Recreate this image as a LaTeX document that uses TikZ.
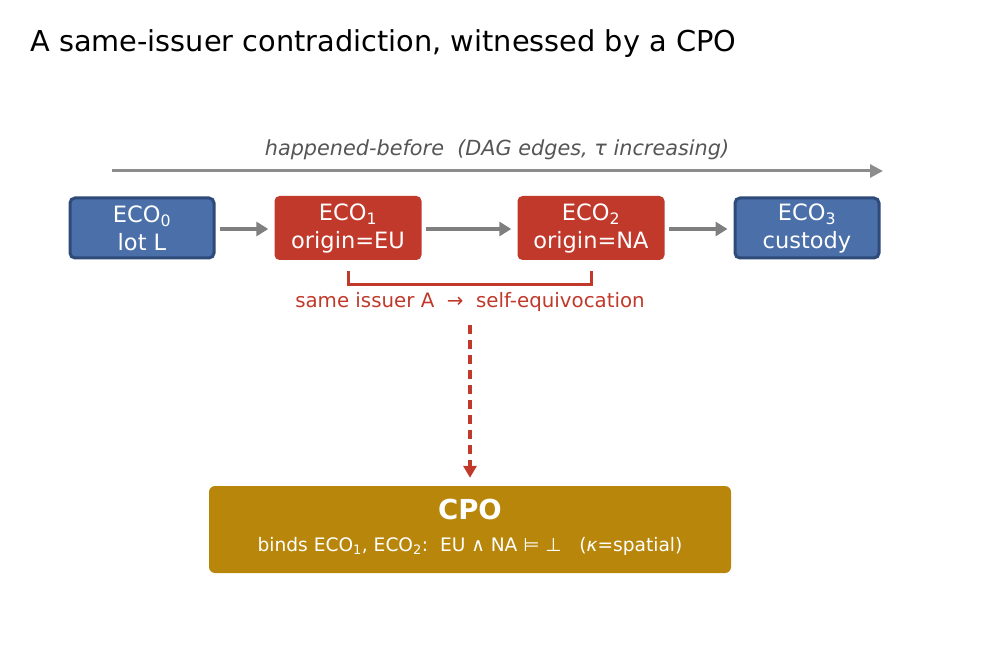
\documentclass[tikz,border=0pt]{standalone}
\usepackage{fontspec}
\setmainfont{DejaVu Sans}
\usetikzlibrary{arrows.meta}
\definecolor{bluefill}{HTML}{4A6FA9}
\definecolor{blueedge}{HTML}{2E4A78}
\definecolor{redfill}{HTML}{C0392B}
\definecolor{goldfill}{HTML}{B8860B}
\definecolor{arrowgray}{HTML}{7F7F7F}
\definecolor{timegray}{HTML}{8C8C8C}
\definecolor{labelgray}{HTML}{555555}
\tikzset{
  ecobox/.style={rounded corners=5pt, minimum width=#1, text=white, align=center,
    font=\fontsize{22.5}{28}\selectfont, inner sep=0pt},
  bluebox/.style={ecobox=144pt, fill=bluefill, draw=blueedge, line width=3pt, minimum height=60pt},
  redbox/.style={ecobox=147pt, fill=redfill, minimum height=64pt},
  flow/.style={draw=arrowgray, line width=4pt, -{Triangle[length=12pt,width=14pt]}},
}
\begin{document}
\begin{tikzpicture}[x=1pt,y=-1pt]
\useasboundingbox (0,0) rectangle (996,668);
\node[anchor=base west, font=\fontsize{28.8}{34}\selectfont, inner sep=0pt] (title) at (30,52) {A same-issuer contradiction, witnessed by a CPO};

\coordinate (t0) at (112,171);
\coordinate (t1) at (883,171);
\draw[draw=timegray, line width=3pt, -{Triangle[length=13pt,width=13pt]}] (t0) -- (t1);
\node[font=\fontsize{20.8}{24}\selectfont\itshape, text=labelgray] (tlabel) at (497,150) {happened-before\ \ (DAG edges, τ increasing)};

\node[bluebox] (e0) at (142,228) {ECO\textsubscript{0}\\lot L};
\node[redbox] (e1) at (348,228) {ECO\textsubscript{1}\\origin=EU};
\node[redbox] (e2) at (591,228) {ECO\textsubscript{2}\\origin=NA};
\node[bluebox] (e3) at (807,228) {ECO\textsubscript{3}\\custody};

\draw[flow] ([xshift=4pt,yshift=-1pt]e0.east) -- ([xshift=-6pt,yshift=-1pt]e1.west);
\draw[flow] ([xshift=4pt,yshift=-1pt]e1.east) -- ([xshift=-6pt,yshift=-1pt]e2.west);
\draw[flow] ([xshift=4pt,yshift=-1pt]e2.east) -- ([xshift=-6pt,yshift=-1pt]e3.west);

\draw[draw=redfill, line width=3pt] ([yshift=-11pt]e1.south) -- ++(0,13) -| ([yshift=-11pt]e2.south);
\node[font=\fontsize{19.8}{24}\selectfont, text=redfill] (same) at (470,302) {same issuer A\ \ →\ \ self-equivocation};

\node[rounded corners=6pt, fill=goldfill, minimum width=522pt, minimum height=87pt, inner sep=0pt] (cpo) at (470,529.5) {};
\node[font=\fontsize{27.5}{32}\selectfont\bfseries, text=white] (cpot) at (470,509) {CPO};
\node[font=\fontsize{18.6}{22}\selectfont, text=white] (cpos) at (470,546) {binds ECO\textsubscript{1}, ECO\textsubscript{2}:\ \ EU ∧ NA ⊨ ⊥\ \ \ (\textit{κ}=spatial)};

\draw[draw=redfill, line width=3.5pt, dash pattern=on 9pt off 6pt, -{Triangle[length=12pt,width=13pt]}] (470,325) -- ([yshift=8pt]cpo.north);
\end{tikzpicture}
\end{document}
